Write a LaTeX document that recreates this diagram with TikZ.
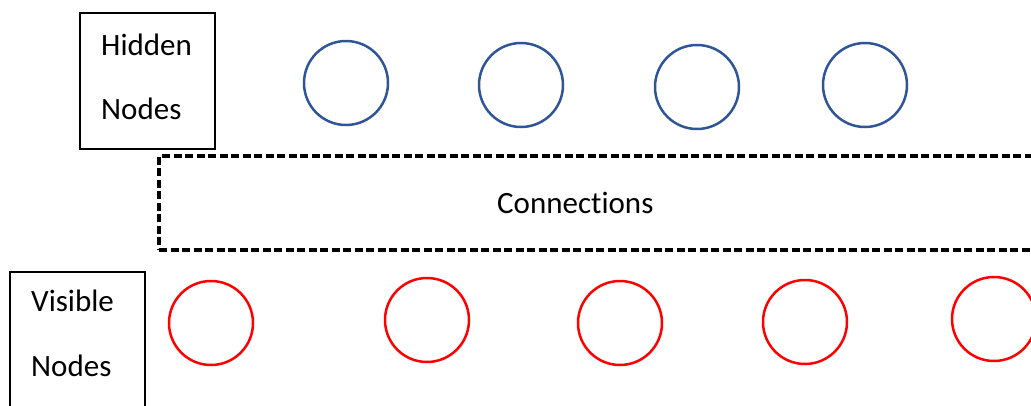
\documentclass[tikz,border=0pt]{standalone}
\usepackage{fontspec}
\setmainfont[Ligatures={NoCommon,NoDiscretionary,NoContextual}]{Carlito}
\definecolor{hblue}{HTML}{2F5597}
\definecolor{vred}{HTML}{FF0000}
\begin{document}
\begin{tikzpicture}[x=1pt,y=-1pt,
  hid/.style={circle,draw=hblue,line width=2.5pt,minimum size=84pt,inner sep=0pt},
  vis/.style={circle,draw=vred,line width=2.5pt,minimum size=84pt,inner sep=0pt},
  labelbox/.style={draw=black,line width=1.3pt,inner sep=0pt},
  connbox/.style={draw=black,line width=3.2pt,dash pattern=on 8pt off 3.5pt,inner sep=0pt},
  txt/.style={anchor=base west,inner sep=0pt,font=\fontsize{31}{36}\selectfont}]
\useasboundingbox (0,0) rectangle (1031,405);
\clip (0,0) rectangle (1031,405);
% label boxes
\node[labelbox,minimum width=135pt,minimum height=136pt] (hbox) at (147.5,81) {};
\node[txt] (htxt1) at (101,55) {Hidden};
\node[txt] (htxt2) at (101,119) {Nodes};
\node[labelbox,minimum width=135pt,minimum height=160pt] (vbox) at (77.5,352) {};
\node[txt] (vtxt1) at (31,311) {Visible};
\node[txt] (vtxt2) at (31,376) {Nodes};
% connections box
\node[connbox,minimum width=890pt,minimum height=94pt] (conn) at (604,203) {};
\node[txt] (ctxt) at (497,213) {Connections};
% hidden nodes
\node[hid] (h1) at (346,83) {};
\node[hid] (h2) at (521,85) {};
\node[hid] (h3) at (697,87) {};
\node[hid] (h4) at (865,85) {};
% visible nodes
\node[vis] (v1) at (211,323) {};
\node[vis] (v2) at (427,320) {};
\node[vis] (v3) at (620,323) {};
\node[vis] (v4) at (805,322) {};
\node[vis] (v5) at (994,319) {};
\end{tikzpicture}
\end{document}
